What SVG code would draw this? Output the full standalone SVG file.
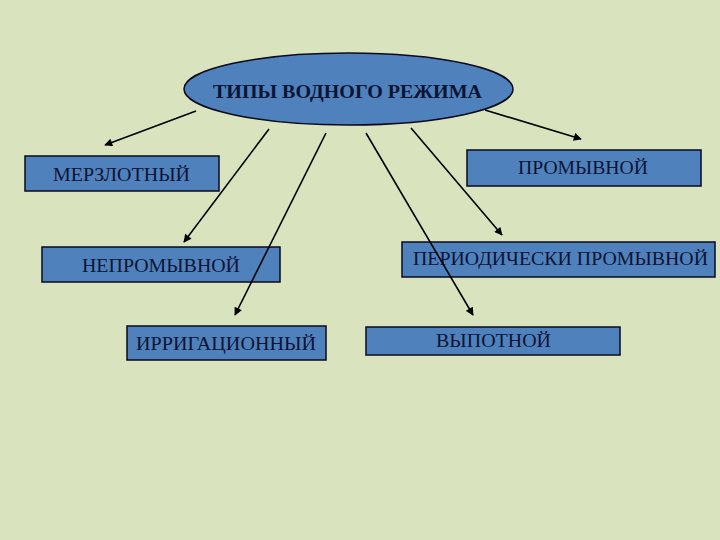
<svg xmlns="http://www.w3.org/2000/svg" width="720" height="540" viewBox="0 0 720 540">
<defs>
<style>
.box{fill:#4f81bd;stroke:#0a0a1e;stroke-width:1.5}
.lbl{font-family:"Liberation Serif","Times New Roman",serif;font-size:18px;fill:#0c1433}
.title{font-family:"Liberation Serif","Times New Roman",serif;font-size:18px;font-weight:bold;fill:#0c1433}
.conn line{stroke:#000;stroke-width:1.6;marker-end:url(#ah)}
</style>
<marker id="ah" viewBox="0 0 10 10" refX="9" refY="5" markerWidth="6" markerHeight="5" orient="auto" markerUnits="strokeWidth">
<path d="M0,0 L10,5 L0,10 z" fill="#000"/>
</marker>
</defs>
<rect width="720" height="540" fill="#d9e3bd"/>
<g id="root">
<ellipse cx="348.5" cy="89" rx="164.5" ry="36" class="box"/>
<text class="title" x="213" y="98" textLength="269" lengthAdjust="spacingAndGlyphs">ТИПЫ ВОДНОГО РЕЖИМА</text>
</g>
<g id="merzlotny">
<rect x="25" y="156" width="194" height="35" class="box"/>
<text class="lbl" x="53" y="181" textLength="137" lengthAdjust="spacingAndGlyphs">МЕРЗЛОТНЫЙ</text>
</g>
<g id="promyvnoy">
<rect x="467" y="150" width="234" height="36" class="box"/>
<text class="lbl" x="518" y="174" textLength="130" lengthAdjust="spacingAndGlyphs">ПРОМЫВНОЙ</text>
</g>
<g id="nepromyvnoy">
<rect x="42" y="247" width="238" height="35" class="box"/>
<text class="lbl" x="82" y="272" textLength="158" lengthAdjust="spacingAndGlyphs">НЕПРОМЫВНОЙ</text>
</g>
<g id="periodicheski">
<rect x="402" y="242" width="313" height="35" class="box"/>
<text class="lbl" x="413" y="265" textLength="295" lengthAdjust="spacingAndGlyphs">ПЕРИОДИЧЕСКИ ПРОМЫВНОЙ</text>
</g>
<g id="irrigatsionny">
<rect x="127" y="326" width="199" height="34" class="box"/>
<text class="lbl" x="136" y="350" textLength="180" lengthAdjust="spacingAndGlyphs">ИРРИГАЦИОННЫЙ</text>
</g>
<g id="vypotnoy">
<rect x="366" y="327" width="254" height="28" class="box"/>
<text class="lbl" x="436" y="347" textLength="115" lengthAdjust="spacingAndGlyphs">ВЫПОТНОЙ</text>
</g>
<g class="conn">
<line x1="196" y1="111" x2="105" y2="145"/>
<line x1="485" y1="110" x2="581" y2="139"/>
<line x1="269" y1="129" x2="184" y2="242"/>
<line x1="326" y1="133" x2="235" y2="315"/>
<line x1="366" y1="133" x2="473" y2="315"/>
<line x1="411" y1="128" x2="502" y2="235"/>
</g>
</svg>
